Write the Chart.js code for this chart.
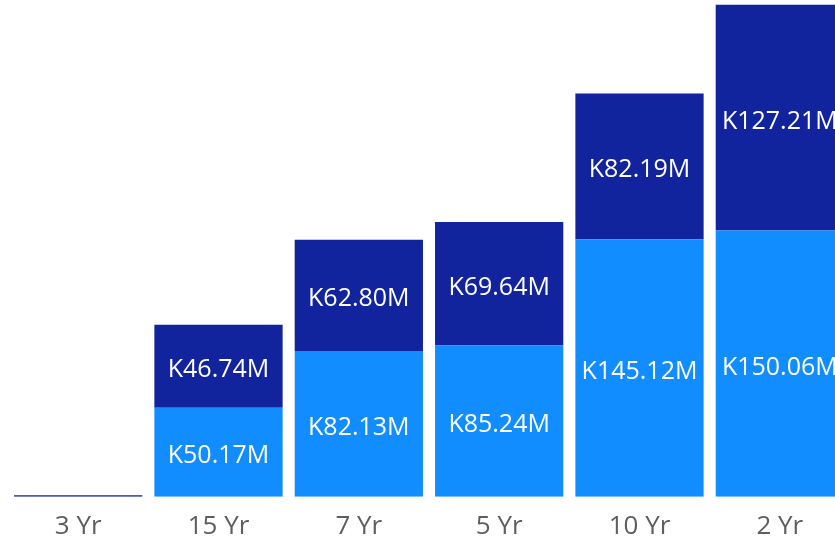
<!DOCTYPE html>
<html>
<head>
<meta charset="utf-8">
<script src="https://cdn.jsdelivr.net/npm/chart.js@4.4.1/dist/chart.umd.min.js"></script>
<style>
  html, body { margin:0; padding:0; background:#fff; overflow:hidden; }
  .wrap { position:relative; width:850px; height:539px; overflow:hidden; }
</style>
</head>
<body>
<div class="wrap"><canvas id="c" width="850" height="557"></canvas></div>
<script>
/* ---- data ---- */
const categories = ['3 Yr', '15 Yr', '7 Yr', '5 Yr', '10 Yr', '2 Yr'];
const lowerVals  = [0, 50.17, 82.13, 85.24, 145.12, 150.06];
const upperVals  = [0.9, 46.74, 62.80, 69.64, 82.19, 127.21];
const upperShown = [false, true, true, true, true, true];
const lowerShown = [false, true, true, true, true, true];

const fmt = v => 'K' + v.toFixed(2) + 'M';

/* draws value labels in the middle of every segment (cap-height centred) */
const segLabels = {
  id: 'segLabels',
  afterDatasetsDraw(chart) {
    const ctx = chart.ctx;
    const size = 25;
    ctx.save();
    ctx.font = size + 'px "Open Sans", "Noto Sans", sans-serif';
    ctx.fillStyle = '#ffffff';
    ctx.textAlign = 'center';
    ctx.textBaseline = 'alphabetic';
    chart.data.datasets.forEach((ds, di) => {
      const meta = chart.getDatasetMeta(di);
      meta.data.forEach((bar, i) => {
        if (!ds.shown[i]) return;
        const { x, y, base } = bar.getProps(['x', 'y', 'base'], true);
        ctx.fillText(fmt(ds.data[i]), x, (y + base) / 2 + size * 0.357 + 2);
      });
    });
    ctx.restore();
  }
};

new Chart(document.getElementById('c'), {
  type: 'bar',
  data: {
    labels: categories,
    datasets: [
      { data: lowerVals, shown: lowerShown, backgroundColor: '#118DFF', borderWidth: 0 },
      { data: upperVals, shown: upperShown, backgroundColor: '#12239E', borderWidth: 0 }
    ]
  },
  options: {
    responsive: false,
    animation: false,
    layout: { padding: { left: 8, right: 0, top: 0, bottom: 1 } },
    plugins: { legend: { display: false }, tooltip: { enabled: false } },
    datasets: { bar: { barPercentage: 1, categoryPercentage: 0.914 } },
    scales: {
      x: {
        stacked: true,
        grid: { display: false, drawTicks: false },
        border: { display: false },
        ticks: {
          color: '#605E5C',
          padding: 14,
          maxRotation: 0,
          font: { family: '"Open Sans", "Noto Sans", sans-serif', size: 26 }
        }
      },
      y: {
        stacked: true,
        display: false,
        min: 0,
        max: 280
      }
    }
  },
  plugins: [segLabels]
});
</script>
</body>
</html>
